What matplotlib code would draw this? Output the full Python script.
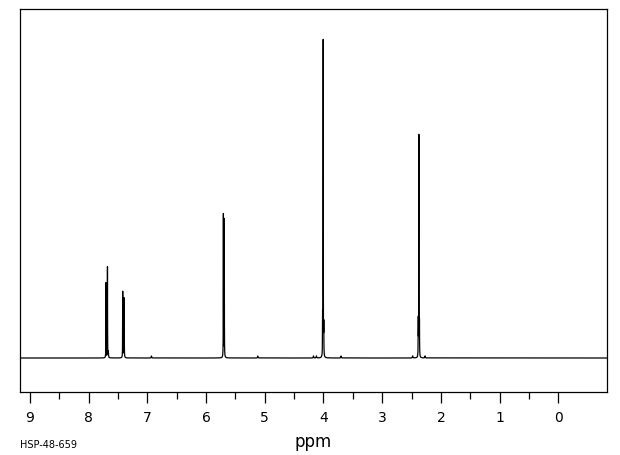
import numpy as np
import matplotlib.pyplot as plt

# peak list (ppm, height in px above baseline)
shifts = [7.705, 7.680, 7.665, 7.420, 7.405, 7.395, 5.705, 5.690,
          4.015, 4.005, 3.995, 2.385, 2.375, 2.365,
          6.93, 5.12, 4.17, 4.12, 3.70, 2.48, 2.27]
heights = [75, 91, 6, 66, 8, 59, 143, 138,
           40, 316, 30, 36, 221, 34,
           2, 2, 2, 2, 2, 2, 2]
widths = [0.0016, 0.0016, 0.003, 0.0016, 0.004, 0.0016, 0.0016, 0.0016,
          0.002, 0.0016, 0.002, 0.002, 0.0016, 0.002,
          0.004, 0.004, 0.004, 0.004, 0.004, 0.004, 0.004]

major_ticks = list(range(0, 10))
tick_labels = [str(t) for t in major_ticks]

ppm = np.linspace(-0.9, 9.2, 60000)
spec = np.zeros_like(ppm)
for c, h, w in zip(shifts, heights, widths):
    spec += h * w**2 / ((ppm - c)**2 + w**2)

fig = plt.figure(figsize=(6.2, 4.55), dpi=100)
ax = fig.add_axes([20 / 620, 63 / 455, 587 / 620, 383 / 455])
ax.plot(ppm, spec, color='black', lw=0.9)

ax.set_xlim(9.17, -0.83)
ax.set_ylim(-34, 349)
ax.set_yticks([])
ax.set_xticks(major_ticks)
ax.set_xticklabels(tick_labels)
ax.set_xticks(np.arange(0.5, 9.5, 1), minor=True)
ax.tick_params(axis='x', which='major', length=8, width=0.9, direction='out',
               labelsize=10, pad=5.5, colors='black')
ax.tick_params(axis='x', which='minor', length=5, width=0.9, direction='out')
for s in ax.spines.values():
    s.set_linewidth(0.9)

fig.text(313 / 620, 1 - 447 / 455, 'ppm', ha='center', va='baseline', fontsize=12)
fig.text(20 / 620, 1 - 448 / 455, 'HSP-48-659', ha='left', va='baseline', fontsize=7)

fig.savefig('out.png', dpi=100)
